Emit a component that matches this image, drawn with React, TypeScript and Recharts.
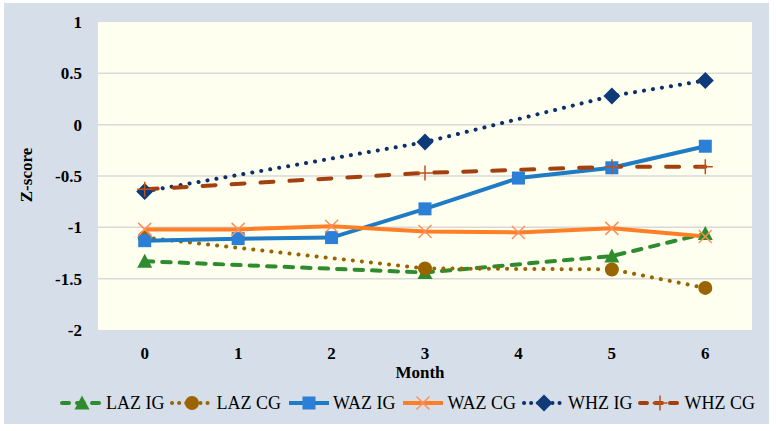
import React from 'react';
import { LineChart, Line, XAxis, YAxis, CartesianGrid } from 'recharts';

// months on the x axis
const months = ['0', '1', '2', '3', '4', '5', '6'];

// Z-score values per series (null = not measured that month)
const lazIG = [-1.33, null, null, -1.44, null, -1.28, -1.06];
const lazCG = [-1.1, null, null, -1.4, null, -1.41, -1.59];
const wazIG = [-1.13, -1.11, -1.1, -0.82, -0.52, -0.42, -0.21];
const wazCG = [-1.02, -1.02, -0.99, -1.04, -1.05, -1.01, -1.09];
const whzIG = [-0.65, null, null, -0.17, null, 0.28, 0.43];
const whzCG = [-0.63, null, null, -0.47, null, -0.41, -0.41];

const yTicks = [-2, -1.5, -1, -0.5, 0, 0.5, 1];

const FONT = 'Liberation Serif';

type Shape = 'triangle' | 'circle' | 'square' | 'cross' | 'diamond' | 'plus';

interface SeriesDef {
  key: string;
  name: string;
  color: string;
  markerColor: string;
  dash?: string;
  shape: Shape;
}

const DOTS = '0.1 9';

const SERIES: SeriesDef[] = [
  { key: 'lazIG', name: 'LAZ IG', color: '#2e8b2e', markerColor: '#2e8b2e', dash: '8.5 9', shape: 'triangle' },
  { key: 'lazCG', name: 'LAZ CG', color: '#9a6400', markerColor: '#9a6400', dash: DOTS, shape: 'circle' },
  { key: 'wazIG', name: 'WAZ IG', color: '#1f7bc4', markerColor: '#2b7fd6', shape: 'square' },
  { key: 'wazCG', name: 'WAZ CG', color: '#ff7f27', markerColor: '#ff8f5a', shape: 'cross' },
  { key: 'whzIG', name: 'WHZ IG', color: '#0d2f6b', markerColor: '#0f3a7a', dash: DOTS, shape: 'diamond' },
  { key: 'whzCG', name: 'WHZ CG', color: '#a3400e', markerColor: '#c0501a', dash: '13 16', shape: 'plus' },
];

const data = months.map((m, i) => ({
  month: m,
  lazIG: lazIG[i],
  lazCG: lazCG[i],
  wazIG: wazIG[i],
  wazCG: wazCG[i],
  whzIG: whzIG[i],
  whzCG: whzCG[i],
}));

const Marker = ({ shape, x, y, color }: { shape: Shape; x: number; y: number; color: string }) => {
  switch (shape) {
    case 'triangle':
      return <polygon points={`${x},${y - 7.5} ${x + 7.5},${y + 6.5} ${x - 7.5},${y + 6.5}`} fill={color} />;
    case 'circle':
      return <circle cx={x} cy={y} r={7} fill={color} />;
    case 'square':
      return <rect x={x - 6.5} y={y - 6.5} width={13} height={13} fill={color} />;
    case 'cross':
      return (
        <path d={`M${x - 6.5},${y - 6.5}L${x + 6.5},${y + 6.5}M${x - 6.5},${y + 6.5}L${x + 6.5},${y - 6.5}`} stroke={color} strokeWidth={1.5} />
      );
    case 'diamond':
      return <polygon points={`${x},${y - 8.5} ${x + 8.5},${y} ${x},${y + 8.5} ${x - 8.5},${y}`} fill={color} />;
    case 'plus':
      return <path d={`M${x - 7.5},${y}L${x + 7.5},${y}M${x},${y - 7.5}L${x},${y + 7.5}`} stroke={color} strokeWidth={1.5} />;
  }
  return null;
};

const makeDot = (s: SeriesDef) => (props: any) => {
  const { cx, cy, index, value } = props;
  if (cx == null || cy == null || value == null) return <g key={`${s.key}-${index}`} />;
  return (
    <g key={`${s.key}-${index}`}>
      <Marker shape={s.shape} x={cx} y={cy} color={s.markerColor} />
    </g>
  );
};

const LegendIcon = ({ s }: { s: SeriesDef }) => (
  <svg width={44} height={18} style={{ display: 'block' }}>
    <line
      x1={2}
      y1={9}
      x2={42}
      y2={9}
      stroke={s.color}
      strokeWidth={4}
      strokeDasharray={s.dash ? (s.dash === DOTS ? '0.1 7' : '7 8') : undefined}
      strokeLinecap={s.dash ? 'round' : 'butt'}
    />
    <Marker shape={s.shape} x={22} y={9} color={s.markerColor} />
  </svg>
);

export default function App() {
  return (
    <div style={{ position: 'absolute', left: 0, top: 0, width: 776, height: 431, background: '#ffffff', fontFamily: FONT }}>
      <div style={{ position: 'absolute', left: 4, top: 3, width: 765, height: 421, background: '#d6dfe9' }} />
      <div style={{ position: 'absolute', left: 0, top: 0 }}>
        <LineChart width={776} height={431} data={data} margin={{ top: 22, right: 24, bottom: 71, left: 38 }}>
          <CartesianGrid
            vertical={false}
            fill="#fffff0"
            stroke="#d9d9d9"
            strokeWidth={1.5}
            horizontalValues={[-1.5, -1, -0.5, 0, 0.5]}
          />
          <XAxis
            dataKey="month"
            padding={{ left: 46.7, right: 46.7 }}
            axisLine={false}
            tickLine={false}
            height={30}
            tickMargin={11}
            tick={{ fill: '#000', fontSize: 17, fontWeight: 700, fontFamily: FONT }}
          />
          <YAxis
            domain={[-2, 1]}
            ticks={yTicks}
            axisLine={false}
            tickLine={false}
            width={60}
            tickMargin={10}
            tick={{ fill: '#000', fontSize: 17, fontWeight: 700, fontFamily: FONT }}
          />
          {SERIES.map((s) => (
            <Line
              key={s.key}
              dataKey={s.key}
              name={s.name}
              type="linear"
              stroke={s.color}
              strokeWidth={4}
              strokeDasharray={s.dash}
              strokeLinecap={s.dash ? 'round' : 'butt'}
              connectNulls
              dot={makeDot(s)}
              activeDot={false}
              isAnimationActive={false}
            />
          ))}
        </LineChart>
      </div>
      <div
        style={{
          position: 'absolute',
          left: -13,
          top: 164,
          width: 80,
          height: 22,
          transform: 'rotate(-90deg)',
          transformOrigin: 'center',
          textAlign: 'center',
          whiteSpace: 'nowrap',
          fontWeight: 700,
          fontSize: 17,
          lineHeight: '22px',
        }}
      >
        Z-score
      </div>
      <div
        style={{
          position: 'absolute',
          left: 370,
          top: 362,
          width: 100,
          textAlign: 'center',
          fontWeight: 700,
          fontSize: 17,
          lineHeight: '22px',
        }}
      >
        Month
      </div>
      <div
        style={{
          position: 'absolute',
          left: 60,
          top: 392,
          display: 'flex',
          alignItems: 'center',
          whiteSpace: 'nowrap',
          fontSize: 18,
          lineHeight: '22px',
        }}
      >
        {SERIES.map((s) => (
          <div key={s.key} style={{ display: 'flex', alignItems: 'center', marginRight: 6 }}>
            <LegendIcon s={s} />
            <span style={{ marginLeft: 2 }}>{s.name}</span>
          </div>
        ))}
      </div>
    </div>
  );
}
